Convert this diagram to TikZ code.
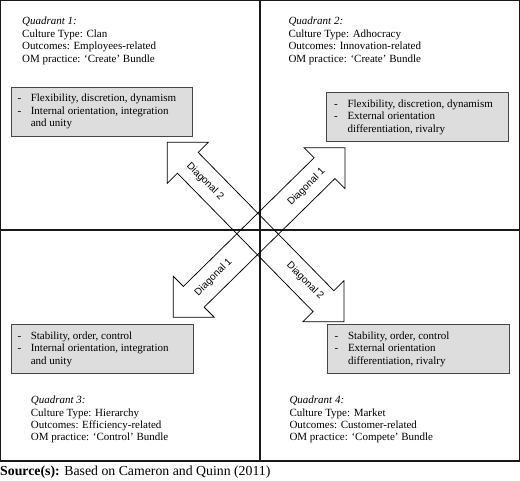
\documentclass[tikz,border=0pt]{standalone}
\usepackage{fontspec}
\setmainfont{Liberation Serif}
\newfontfamily\arialfont{Liberation Sans}
\usetikzlibrary{calc}
\definecolor{boxgray}{RGB}{221,221,221}
\definecolor{boxline}{RGB}{70,70,70}
\tikzset{
  frameline/.style={draw=black!90, line width=1.2pt},
  graybox/.style={draw=boxline, fill=boxgray, line width=0.9pt, inner sep=0pt},
  arrowshape/.style={draw=black, line width=0.75pt},
  txt/.style={anchor=base west, inner sep=0pt, font=\fontsize{11}{12.4}\selectfont},
  diaglabel/.style={inner sep=0pt, font=\arialfont\fontsize{10}{12}\selectfont}
}
\newcommand{\qblock}[4]{\parbox[t]{220pt}{\fontsize{11}{12.4}\selectfont\textit{#1}\\#2\\#3\\#4}}
\newcommand{\dlist}[3]{\begin{tabular}[t]{@{}p{13.3pt}@{}l@{}}-&#1\\-&#2\\&#3\end{tabular}}
\begin{document}
\begin{tikzpicture}[x=1pt,y=-1pt]
\useasboundingbox (0,0) rectangle (520,481);
% frame and dividers
\draw[frameline] (0.7,0.7) rectangle (519.3,461);
\coordinate (vt) at (260,0.7);
\coordinate (vb) at (260,461);
\coordinate (hl) at (0.7,230);
\coordinate (hr) at (519.3,230);
\draw[frameline] (vt) -- (vb);
\draw[frameline] (hl) -- (hr);

% gray boxes
\node[graybox, anchor=north west, minimum width=181pt, minimum height=49.3pt] (b1) at (11,86.7) {};
\node[graybox, anchor=north west, minimum width=182.3pt, minimum height=48.7pt] (b2) at (326,92.3) {};
\node[graybox, anchor=north west, minimum width=182pt, minimum height=49.3pt] (b3) at (10.5,324) {};
\node[graybox, anchor=north west, minimum width=182.6pt, minimum height=49.3pt] (b4) at (326.7,324) {};

% box texts
\node[txt] (t1) at (17.3,102) {\dlist{Flexibility, discretion, dynamism}{Internal orientation, integration}{and unity}};
\node[txt] (t2) at (334,107.5) {\dlist{Flexibility, discretion, dynamism}{External orientation}{differentiation, rivalry}};
\node[txt] (t3) at (17.3,339.3) {\dlist{Stability, order, control}{Internal orientation, integration}{and unity}};
\node[txt] (t4) at (334.5,339.3) {\dlist{Stability, order, control}{External orientation}{differentiation, rivalry}};

% quadrant texts
\node[txt] (q1) at (22,25) {\qblock{Quadrant 1:}{Culture Type: Clan}{Outcomes: Employees-related}{OM practice: `Create' Bundle}};
\node[txt] (q2) at (288.3,25) {\qblock{Quadrant 2:}{Culture Type: Adhocracy}{Outcomes: Innovation-related}{OM practice: `Create' Bundle}};
\node[txt] (q3) at (30.7,403.6) {\qblock{Quadrant 3:}{Culture Type: Hierarchy}{Outcomes: Efficiency-related}{OM practice: `Control' Bundle}};
\node[txt] (q4) at (289.3,403.6) {\qblock{Quadrant 4:}{Culture Type: Market}{Outcomes: Customer-related}{OM practice: `Compete' Bundle}};

% Diagonal 2 arrow (NW - SE)
\draw[arrowshape] (167.3,142.3) -- (208.3,142.3) -- (198.2,152.4) -- (333.9,290.8) -- (344,280.7)
  -- (344,321.7) -- (303,321.7) -- (313.1,311.6) -- (177.4,173.2) -- (167.3,183.3) -- cycle;
% Diagonal 1 arrow (SW - NE)
\draw[arrowshape] (345,147.7) -- (345,188.7) -- (334.9,178.6) -- (204.2,307.2) -- (214.3,317.3)
  -- (173.3,317.3) -- (173.3,276.3) -- (183.4,286.4) -- (314.1,157.8) -- (304,147.7) -- cycle;

% labels
\node[diaglabel, rotate=-45] (d2a) at (205,181.5) {Diagonal 2};
\node[diaglabel, rotate=-45] (d2b) at (305,281) {Diagonal 2};
\node[diaglabel, rotate=45] (d1a) at (306.5,187) {Diagonal 1};
\node[diaglabel, rotate=45] (d1b) at (213.5,277.5) {Diagonal 1};

% source
\node[anchor=base west, inner sep=0pt, font=\fontsize{13.8}{16}\selectfont] (src) at (0,475) {\textbf{Source(s):} Based on Cameron and Quinn (2011)};
\end{tikzpicture}
\end{document}
